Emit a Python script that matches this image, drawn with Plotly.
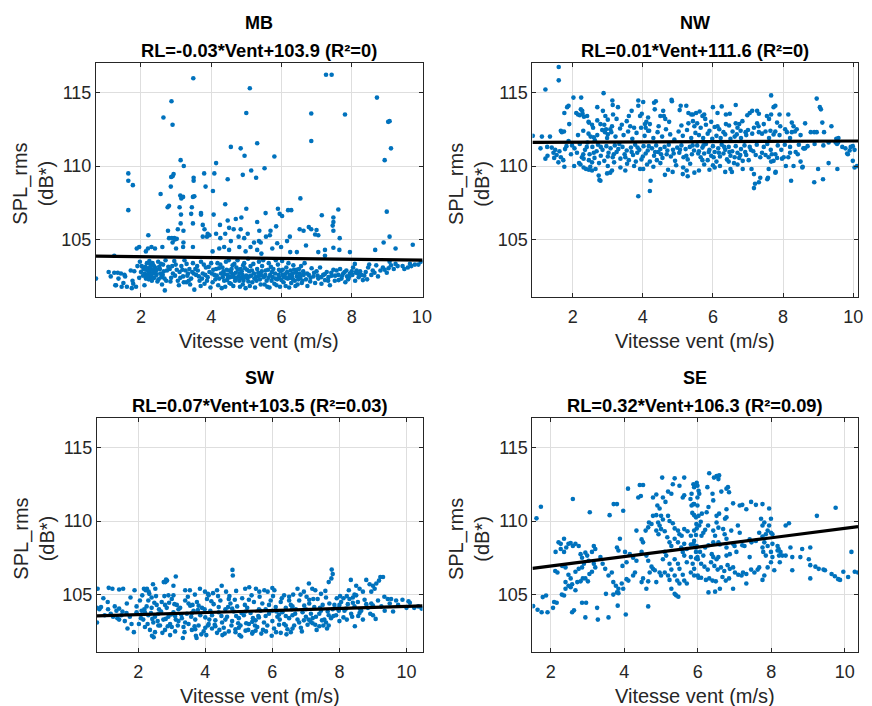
import plotly.graph_objects as go

# ---------------- data ----------------
panel_names = ["MB", "NW", "SW", "SE"]
slopes = [-0.03, 0.01, 0.07, 0.32]
intercepts = [103.9, 111.6, 103.5, 106.3]
r2_text = ["0", "0", "0.03", "0.09"]
x_ranges = [[0.72, 10.02], [0.85, 10.14], [0.77, 10.48], [1.5, 10.36]]
y_range = [101.1, 117.0]
x_ticks = [2, 4, 6, 8, 10]
y_ticks = [105, 110, 115]

MB_points = [
(3.49,115.96),(5.1,115.28),(7.27,116.2),(7.43,116.2),(2.87,114.4),(8.72,114.65),(2.64,113.3),(2.9,112.8),(5.0,113.6),(6.85,113.57),(7.81,113.5),(9.04,113.0),(9.08,113.05),(6.85,111.7),(5.31,111.55),(9.12,111.2),(4.56,111.3),(4.84,111.2),(4.95,110.7),(5.8,110.65),(8.94,110.4),(3.13,110.4),(3.22,110.0),(4.14,110.2),(5.52,109.85),(1.64,109.5),(1.64,109.0),(1.77,108.7),(1.64,107.0),
(2.9,109.3),(2.93,109.45),(2.86,109.25),(3.5,109.2),(3.5,109.0),(3.8,109.5),(4.09,109.5),(4.47,109.1),(4.9,109.4),(5.14,109.7),(5.28,109.2),(2.85,108.6),(3.84,108.6),(4.05,108.3),(2.56,108.1),(3.12,108.0),(3.2,107.9),(3.48,107.9),(3.52,107.95),(2.8,107.3),(2.76,107.2),(3.15,107.8),(3.45,107.2),(4.4,107.4),(5.0,107.1),(3.1,107.2),(3.71,106.8),(3.71,106.7),(4.07,106.7),(3.43,106.75),(3.14,106.7),
(6.54,107.8),(5.9,107.1),(5.95,106.75),(6.02,106.6),(6.19,107.0),(6.28,107.0),(7.62,107.05),(7.48,106.5),(7.48,106.2),(7.46,105.95),(7.15,106.65),(9.0,106.9),(5.55,106.8),
(3.48,106.1),(3.13,106.1),(3.76,106.0),(4.47,106.3),(4.7,106.4),(4.86,106.5),(4.25,106.0),(4.51,105.8),(2.77,105.6),(3.05,105.7),(3.21,105.6),(3.81,105.7),(3.9,105.4),(3.95,105.3),(4.14,105.4),(4.4,105.4),(4.64,105.7),(4.84,105.7),(5.04,105.4),(5.31,106.2),
(6.52,105.7),(6.63,105.6),(6.78,105.85),(6.85,105.7),(7.0,105.65),(7.48,105.6),(5.85,105.9),(5.37,105.6),(5.69,105.6),(5.56,105.2),(5.67,105.3),(6.24,105.2),(6.96,105.35),(7.05,105.3),(7.66,105.1),(9.08,105.2),(8.91,104.8),(9.74,104.65),(8.67,104.3),(9.25,104.4),
(2.8,105.1),(2.88,105.1),(2.95,105.1),(3.02,105.05),(2.21,105.3),(2.9,104.8),(2.96,105.0),(3.21,104.8),(3.48,104.5),(3.76,105.2),(3.88,105.2),(4.26,105.1),(4.56,104.9),(4.78,105.2),(4.94,105.1),(5.22,104.8),(5.36,104.9),(5.41,104.8),(5.88,104.75),(6.16,104.9),(6.7,104.6),
(1.88,104.4),(1.95,104.5),(2.14,104.2),(2.4,104.4),(2.61,104.5),(3.0,104.4),(3.2,104.5),(4.04,104.2),(4.23,104.4),(4.37,104.5),(4.51,104.3),(4.8,104.5),(4.98,104.2),(5.12,104.5),(5.31,104.3),(7.24,103.9),(7.24,104.3),(7.95,104.15),(6.44,104.15),(5.74,104.4),(5.99,104.5),(7.48,104.45),(7.65,104.3),(5.43,104.05),(6.25,104.15),(7.05,104.15),(1.24,103.9),(2.3,104.5),(2.2,104.4),
(0.72,102.35),(1.08,102.8),(1.14,102.5),(1.29,101.9),(1.36,102.35),(1.43,102.7),(1.5,102.05),(1.55,102.5),(1.6,101.8),(1.71,102.9),(1.76,102.2),(1.81,102.85),(1.86,101.8),(1.74,101.7),(1.24,102.75),(1.34,102.75),(1.53,102.6),(1.27,101.9),(1.45,101.8),(1.78,102.0),(1.9,103.2),(1.95,102.4),
(1.97,103.5),(2.02,103.2),(2.07,103.0),(2.11,102.7),(2.16,102.6),(2.21,102.9),(2.24,102.45),(2.27,103.3),(2.31,102.2),(2.35,102.7),(2.4,103.1),(2.44,102.6),(2.49,103.5),(2.54,103.0),(2.58,102.45),(2.63,103.3),(2.68,101.55),(2.72,102.2),(2.2,102.6),(2.25,102.75),(2.28,102.55),(2.18,103.05),(2.14,102.35),(2.3,102.95),(2.06,102.55),(2.12,103.15),(2.33,103.4),(2.38,102.4),(2.22,102.3),(2.26,103.1),(2.36,102.9),(2.45,102.95),(2.5,102.3),(2.65,102.85),(2.7,103.6),(2.0,102.8),(2.1,101.9),(2.55,102.7),(2.6,101.95),
(2.82,103.0),(2.91,102.7),(2.99,103.3),(3.05,102.2),(3.1,102.8),(3.15,103.2),(3.2,102.5),(3.24,103.6),(3.29,102.1),(3.34,102.7),(3.38,103.0),(3.43,102.35),(3.48,103.4),(3.52,101.6),(3.57,102.6),(3.62,102.9),(3.67,102.2),(3.71,103.5),(3.76,102.7),(3.81,102.0),(3.85,103.1),(3.9,102.45),(3.95,102.8),(4.0,103.4),(4.04,102.1),(4.09,102.6),(4.14,103.0),(4.18,103.4),(4.23,102.35),(4.28,102.7),(4.3,101.7),(4.32,103.1),(4.37,102.2),(4.42,103.5),(4.47,102.6),(4.51,102.9),(4.56,102.0),(4.61,103.25),(4.65,102.45),(4.7,102.75),(4.75,103.6),(4.8,102.2),(4.84,103.0),(4.89,102.6),(4.94,103.4),(4.98,101.7),(5.03,102.35),(5.08,102.85),(5.12,103.2),(5.17,102.1),(5.22,102.7),(5.27,102.45),(5.31,103.0),(5.36,103.5),(5.41,101.95),
(2.86,102.4),(2.95,103.55),(3.08,101.9),(3.18,102.95),(3.3,103.35),(3.4,101.95),(3.46,102.8),(3.6,103.2),(3.7,101.85),(3.79,103.3),(3.88,102.2),(3.98,101.75),(4.06,102.95),(4.12,102.3),(4.2,101.9),(4.26,103.3),(4.35,102.85),(4.4,101.8),(4.45,102.25),(4.5,103.6),(4.54,102.45),(4.58,103.0),(4.63,101.85),(4.68,102.2),(4.72,103.1),(4.78,102.5),(4.82,101.8),(4.87,102.85),(4.92,102.2),(4.96,103.05),(5.0,102.55),(5.05,103.7),(5.1,101.85),(5.14,102.55),(5.2,103.35),(5.25,101.75),(5.29,102.2),(5.34,102.75),(5.39,102.3),(4.62,102.65),(4.73,102.4),(4.44,102.95),(4.52,102.05),(4.85,102.4),(4.9,101.95),(5.06,102.15),
(5.45,103.2),(5.5,102.45),(5.55,102.9),(5.6,101.8),(5.64,103.4),(5.68,102.6),(5.72,102.2),(5.77,103.0),(5.82,102.7),(5.86,101.9),(5.9,103.3),(5.94,102.4),(5.98,102.85),(6.02,103.55),(6.06,102.1),(6.1,102.65),(6.14,103.1),(6.18,102.35),(6.22,101.75),(6.26,102.9),(6.3,102.5),(6.34,103.25),(6.38,102.2),(6.42,102.75),(6.46,101.95),(6.5,103.0),(6.54,102.4),(6.58,102.05),(6.62,102.85),(6.66,103.4),(6.7,102.3),(6.74,101.85),(6.78,102.6),(6.82,102.15),(6.86,103.05),(6.91,102.5),(6.96,102.05),(7.0,102.85),(7.05,102.35),(7.1,103.1),(7.14,102.0),(7.19,102.6),(7.24,102.25),(7.29,102.8),(7.34,102.45),(7.38,101.9),(7.43,102.55),(7.48,102.95),(7.52,102.2),(7.57,102.9),(7.62,102.6),(7.67,103.0),(7.71,102.35),(7.76,102.7),
(5.42,102.6),(5.48,103.6),(5.52,101.95),(5.58,102.2),(5.62,102.95),(5.66,101.75),(5.7,103.15),(5.75,102.45),(5.8,102.0),(5.84,103.6),(5.88,102.3),(5.92,102.6),(5.96,101.8),(6.0,102.25),(6.04,102.95),(6.08,102.45),(6.12,101.85),(6.16,102.8),(6.2,103.4),(6.24,102.4),(6.28,102.05),(6.32,102.7),(6.36,102.95),(6.4,101.85),(6.44,102.5),(6.48,102.3),(6.52,102.7),(6.56,103.2),(6.6,102.2),
(7.85,102.9),(7.87,102.5),(7.95,102.7),(8.0,102.85),(8.04,103.1),(8.09,103.35),(8.14,102.9),(8.18,102.7),(8.28,102.6),(8.32,102.25),(8.47,103.1),(8.56,102.6),(8.6,102.9),(8.7,103.25),(8.89,103.1),(8.94,102.95),(9.08,103.5),(9.12,103.25),(9.31,103.2),(9.45,103.2),(9.6,103.1),(9.66,103.35),(9.9,103.3),(9.97,103.5),(7.9,102.3),(8.2,102.45),(8.4,102.8),(8.75,102.5),(9.0,102.75),(9.2,103.0),(8.1,102.2),(7.82,102.1),(8.5,103.3),(9.8,103.3),
(2.15,102.95),(2.19,102.5),(2.23,102.8),(2.29,102.65),(2.32,102.4),(2.17,103.4),(2.24,103.55),(2.37,103.2),(2.42,102.8),(2.47,102.15),(2.52,103.15),(2.57,103.35),(2.62,102.6),(2.67,102.35),(2.74,102.9),(2.78,103.15),(2.84,102.15),(2.89,103.2),(2.97,102.55),(3.02,102.95),(3.12,102.4),(3.22,102.1),(3.27,102.9),(3.32,102.55),(3.36,102.2),(3.5,102.7),(3.55,103.0),(3.65,102.5),(3.74,102.35),(3.83,102.6),(3.93,103.15),(4.02,102.7),(4.16,102.55),(4.22,103.05),(4.33,102.45),(4.39,102.65),(4.48,102.4),(4.57,102.75),(4.66,103.35),(4.76,102.95),(4.81,102.7),(4.91,103.25),(4.95,102.45),(5.02,102.95),(5.09,102.5),(5.16,102.9),(5.23,102.35),(5.33,102.5),(5.44,102.85),(5.54,102.6),(5.63,102.4),(5.73,102.8),(5.83,102.35),(5.93,102.95),(6.03,102.6),(6.13,102.4),(6.23,102.6),(6.33,102.3),(6.43,102.95),(6.53,102.55),(6.63,102.6),(6.73,102.7),(6.83,102.4),(6.93,102.75),(7.03,102.55),(7.13,102.45),(7.23,102.65),(7.33,102.2),(7.42,102.75),(7.53,102.55),(7.63,102.25),(7.73,102.55),(7.8,102.8),(7.92,102.45),(8.02,102.6),(8.12,102.75),(8.24,102.85),(8.36,102.55),(8.44,102.3),(8.65,102.75),(8.82,102.9),(9.05,103.05),(9.25,103.35),(9.5,103.0),(9.7,103.2),
]

NW_points = [
(1.6,116.73),(1.6,115.82),(1.22,115.2),(2.02,114.65),(2.24,114.65),(2.88,114.95),(7.66,114.8),(8.96,114.58),(9.05,114.0),(9.08,113.85),(1.84,114.0),(1.88,114.1),(1.76,113.6),
(0.86,112.05),(1.12,112.0),(1.35,112.0),(1.4,111.25),(1.45,110.9),(1.5,111.1),(1.22,110.5),(1.28,110.7),(1.47,110.55),(1.54,110.75),(1.59,110.25),(1.73,110.4),(1.76,109.95),(1.66,110.6),(1.78,111.15),(1.82,111.35),(1.9,112.85),(1.66,112.4),(1.69,112.3),(1.75,112.35),(1.88,111.7),(1.08,111.2),(1.27,111.3),(1.95,110.8),(1.62,111.0),(1.98,111.4),
(2.1,113.6),(2.15,113.5),(2.2,113.45),(2.28,113.55),(2.32,113.35),(2.23,113.85),(2.27,113.75),(2.41,113.4),(2.46,112.95),(2.7,114.0),(2.04,110.0),(2.18,110.2),(2.22,110.1),(2.31,109.9),(2.38,109.8),(2.46,109.75),(2.55,109.7),(2.65,109.8),(2.74,109.35),(2.76,109.05),(2.79,109.0),(2.98,109.5),(3.07,109.55),(3.12,109.7),(2.31,110.5),(2.46,110.4),(2.55,110.25),(2.86,113.75),(2.93,113.4),(3.0,113.15),(3.0,112.15),(3.07,112.5),(3.12,112.7),(3.14,114.15),(3.29,114.0),(2.9,112.8),(2.95,112.5),(2.92,112.3),(2.7,113.1),(2.79,112.85),(2.6,111.95),(2.63,111.75),(2.51,112.0),
(2.05,111.2),(2.12,110.9),(2.2,111.5),(2.26,110.6),(2.35,111.1),(2.42,111.6),(2.48,110.8),(2.56,111.3),(2.62,110.55),(2.68,111.0),(2.72,111.45),(2.8,110.7),(2.85,111.1),(2.9,110.35),(2.96,111.35),(3.02,110.9),(3.08,111.2),(3.14,110.6),(3.2,111.4),(3.25,110.95),(3.3,111.15),(3.36,110.5),(3.42,111.3),(3.48,110.8),(3.54,111.05),(3.6,110.4),(3.66,111.25),(3.72,110.75),(3.78,111.45),(3.84,110.9),(3.9,111.1),(3.96,110.45),(4.02,111.35),(4.08,110.85),(4.14,111.05),(4.2,110.3),(4.26,111.2),(4.32,110.7),(4.38,111.4),(4.44,110.95),(4.5,111.15),(4.56,110.55),(4.62,111.3),(4.68,110.8),(4.74,111.45),(4.8,110.65),(4.86,111.1),(4.92,110.35),(4.98,111.25),(5.04,110.9),(5.1,111.4),(5.16,110.6),(5.22,111.15),(5.28,110.45),(5.34,111.3),(5.4,110.8),(5.46,111.05),
(2.15,112.1),(2.3,112.4),(2.45,112.2),(2.58,112.6),(2.7,112.1),(2.84,112.45),(2.98,111.9),(3.1,112.3),(3.22,112.0),(3.35,112.55),(3.45,112.1),(3.58,112.35),(3.7,111.85),(3.82,112.25),(3.95,112.6),(4.05,112.05),(4.18,112.4),(4.3,111.9),(4.42,112.3),(4.55,112.0),(4.66,112.5),(4.78,112.15),(4.9,111.8),(5.02,112.35),(5.14,112.05),(5.26,112.45),(5.38,111.9),(5.5,112.25),
(2.3,110.8),(2.5,109.95),(2.75,110.2),(3.0,110.0),(3.18,110.25),(3.36,109.9),(3.55,110.15),(3.75,110.0),(3.92,109.8),(4.12,110.1),(4.3,109.95),(4.5,110.2),(4.72,109.75),(4.95,110.05),(5.15,109.9),(5.35,110.15),(3.87,107.95),(4.2,108.3),(4.22,109.0),(4.01,109.8),(4.63,109.4),(5.14,109.45),(5.28,109.3),(5.47,109.55),
(3.6,113.4),(3.68,113.75),(3.64,112.7),(3.54,113.05),(3.87,114.1),(4.01,114.35),(3.92,113.4),(3.97,113.55),(4.06,112.85),(4.08,112.6),(4.15,113.3),(4.2,112.85),(4.32,114.3),(4.34,113.85),(4.15,112.4),(4.58,113.75),(4.6,113.4),(4.64,113.2),(4.83,114.4),(5.08,114.1),(5.05,113.8),(5.24,114.1),(5.3,113.6),(5.38,113.5),(5.43,113.05),(5.47,112.7),(4.37,114.4),(4.82,114.5),(3.13,114.45),(3.87,114.45),
(5.43,113.5),(5.52,113.6),(5.62,113.7),(5.7,113.4),(5.75,113.5),(5.78,113.2),(6.0,114.0),(6.25,114.05),(6.65,114.15),(6.13,113.6),(6.37,113.5),(6.48,113.55),(5.55,112.9),(5.65,112.6),(5.8,112.8),(5.9,112.4),(6.05,112.65),(6.18,112.5),(6.13,112.7),(6.37,112.85),(6.46,112.75),(6.65,112.9),(6.75,112.85),(6.84,113.05),(6.56,112.35),(6.68,112.15),(6.79,112.4),(6.93,112.3),(7.0,112.45),
(5.55,111.4),(5.6,111.0),(5.65,110.6),(5.7,111.25),(5.75,110.85),(5.8,111.5),(5.85,110.4),(5.9,111.1),(5.95,110.7),(6.0,111.35),(6.05,110.95),(6.1,110.3),(6.15,111.2),(6.2,110.65),(6.25,111.45),(6.3,110.85),(6.35,111.1),(6.4,110.45),(6.45,111.3),(6.5,110.7),(6.55,111.0),(6.6,110.2),(6.65,111.35),(6.7,110.9),(6.75,110.55),(6.8,111.15),(6.85,110.35),(6.9,111.4),(6.95,110.75),
(5.6,112.1),(5.72,111.9),(5.85,112.2),(5.98,111.85),(6.1,112.05),(6.22,111.9),(6.35,112.15),(6.5,111.85),(6.62,112.0),(6.8,111.9),(6.95,112.1),
(5.6,109.7),(5.75,110.1),(5.9,109.75),(6.05,109.9),(6.2,110.0),(6.35,109.6),(6.5,109.8),(6.7,110.1),(6.54,109.6),
(7.12,113.75),(7.26,113.75),(7.31,113.55),(6.98,113.45),(7.05,113.6),(7.54,113.4),(7.6,113.2),(7.66,113.5),(7.73,114.0),(7.78,114.1),(7.9,113.5),(8.15,113.5),(9.12,112.95),(9.38,112.7),(8.63,112.9),(8.25,112.95),(8.3,112.7),(7.83,112.95),(7.92,112.7),(7.45,112.85),(7.26,112.9),(7.17,112.6),(8.79,112.3),(8.96,112.3),(8.34,112.35),(8.39,112.5),(8.25,112.3),(8.06,112.5),(8.11,112.3),(7.64,112.4),(7.73,112.15),(7.78,112.35),(7.31,112.3),(7.4,112.2),(7.5,112.35),(7.12,112.2),
(9.52,111.85),(9.57,111.6),(9.54,111.5),(9.78,111.2),(9.83,110.85),(9.9,111.05),(9.99,111.35),(10.04,111.1),(9.99,110.35),(10.04,109.9),(10.11,110.0),(9.55,109.8),(9.14,109.1),(8.89,108.9),(9.0,109.8),(8.56,109.95),(8.3,110.0),(8.23,109.0),(8.58,111.2),(8.63,111.2),(8.36,110.95),(8.42,110.8),(8.15,110.6),(8.2,110.9),(7.97,110.5),(8.02,110.6),(7.78,110.8),(7.83,110.55),(7.73,110.35),(7.59,110.6),(7.68,110.8),(7.65,111.1),(7.4,110.9),(7.5,110.75),(7.78,109.55),(7.55,109.1),(7.35,109.2),(7.31,108.9),(7.17,109.45),(7.2,108.8),(7.17,108.5),(7.59,109.8),(7.66,110.3),(7.57,109.2),(7.79,109.6),
(7.05,111.3),(7.15,111.0),(7.25,111.45),(7.35,110.6),(7.45,111.3),(7.55,111.5),(7.85,111.4),(7.95,111.1),(8.05,111.45),(8.2,111.3),(8.45,111.45),(8.7,111.35),(8.9,111.5),(9.15,111.4),(9.3,111.6),(9.17,112.3),(8.89,112.3),(8.6,111.2),(8.55,109.9),(9.5,111.6),(9.58,111.9),(9.69,111.3),(9.85,110.8),(9.93,111.3),(7.02,110.4),(7.1,109.8),(8.08,110.0),(8.5,110.3),(9.3,110.2),
(2.4,111.3),(2.6,110.9),(2.8,111.3),(3.0,110.65),(3.17,110.8),(3.33,111.5),(3.5,110.6),(3.68,110.95),(3.85,111.25),(4.0,110.65),(4.17,111.35),(4.35,110.95),(4.52,110.8),(4.7,111.05),(4.88,110.85),(5.06,111.1),(5.24,110.7),(5.42,111.4),(5.58,110.85),(5.73,111.4),(5.88,110.95),(6.02,110.6),(6.17,110.9),(6.32,111.3),(6.47,110.95),(6.62,110.6),(6.78,110.75),(6.92,110.95),(7.08,111.1),(7.22,110.75),(3.4,112.8),(3.75,112.6),(4.1,113.0),(4.45,112.7),(4.75,113.0),(5.1,112.75),(5.3,112.9),(5.95,113.0),(6.3,112.3),(6.7,112.6),(7.3,112.7),(7.6,111.9),(7.9,112.1),(8.2,111.9),(8.5,112.1),(2.45,113.0),(2.55,112.8),(3.25,113.2),(3.15,113.5),(4.5,113.4),(3.5,109.7),(3.8,110.3),(4.4,110.4),(4.85,109.6),(5.25,109.7),(5.7,110.4),(6.0,110.05),(6.45,110.3),(6.85,109.8),
]

SW_points = [
(0.79,105.4),(0.77,104.1),(0.77,103.1),(1.12,105.46),(1.23,105.4),(1.43,105.35),(1.55,105.4),(0.96,104.75),(1.09,104.5),(1.3,104.2),(0.84,104.0),(0.89,104.15),(1.43,104.05),(1.53,103.85),(1.66,104.4),(1.77,104.8),(1.89,105.3),(1.38,103.4),(1.43,103.3),(1.18,103.7),(1.68,102.7),(1.87,102.45),(1.25,103.5),(1.5,103.6),(1.6,103.2),(1.75,103.5),(1.8,103.0),(1.95,103.8),(1.35,103.9),(1.65,103.75),(1.0,103.6),(1.1,104.0),(1.95,104.2),
(2.17,105.4),(2.22,105.3),(2.26,105.4),(2.31,105.2),(2.44,105.7),(2.51,105.4),(2.76,105.85),(2.86,105.95),(2.83,106.03),(2.81,105.85),(3.12,106.23),(3.05,105.6),(3.05,104.95),(2.41,102.2),(2.46,102.1),(2.95,102.25),
(2.05,104.6),(2.1,103.9),(2.15,103.3),(2.2,102.8),(2.25,104.2),(2.3,103.6),(2.35,102.6),(2.4,104.8),(2.45,103.1),(2.5,102.45),(2.55,104.3),(2.6,103.7),(2.65,102.9),(2.7,104.5),(2.75,103.3),(2.8,102.6),(2.85,104.1),(2.9,103.5),(2.95,103.0),(3.0,104.7),(3.05,103.8),(3.1,102.5),(3.15,104.3),(3.2,103.2),(2.08,103.4),(2.18,104.0),(2.28,103.0),(2.38,103.75),(2.48,104.45),(2.58,103.2),(2.68,103.85),(2.78,104.9),(2.88,102.85),(2.98,103.65),(3.08,104.35),(3.18,102.9),(2.12,104.95),(2.33,105.05),(2.53,104.9),(2.72,102.4),(2.92,104.45),(3.12,103.3),(2.02,103.0),(2.62,104.0),(2.42,103.35),(2.82,103.35),
(3.4,105.3),(3.54,105.3),(3.69,105.0),(3.84,105.4),(3.99,105.2),(4.08,105.05),(4.23,105.1),(4.35,105.3),(4.49,105.6),(4.62,105.2),(4.72,104.9),(4.92,105.25),(5.19,105.4),(5.31,105.5),(5.51,105.4),(5.61,105.2),(4.81,106.68),(4.82,106.3),(3.33,102.05),(3.72,102.2),(3.74,102.05),(4.03,102.25),(4.51,102.25),(5.02,102.25),(5.07,102.15),(5.41,102.45),
(3.25,104.1),(3.3,103.4),(3.35,102.8),(3.4,104.6),(3.45,103.7),(3.5,103.0),(3.55,104.25),(3.6,102.6),(3.65,103.9),(3.7,103.3),(3.75,104.5),(3.8,102.9),(3.85,103.6),(3.9,104.1),(3.95,102.5),(4.0,103.45),(4.05,104.7),(4.1,103.0),(4.15,103.9),(4.2,102.7),(4.25,104.35),(4.3,103.25),(4.35,102.4),(4.4,103.8),(4.45,104.6),(4.5,103.1),(4.55,102.75),(4.6,104.0),(4.65,103.5),(4.7,102.5),(4.75,104.4),(4.8,103.2),(4.85,103.85),(4.9,102.65),(4.95,104.2),(5.0,103.4),(5.05,102.9),(5.1,104.75),(5.15,103.6),(5.2,102.55),(5.25,104.1),(5.3,103.0),(5.35,103.75),(5.4,102.35),(5.45,104.5),(5.5,103.25),(5.55,102.8),(5.6,104.0),
(3.28,103.65),(3.38,102.45),(3.48,104.85),(3.58,103.5),(3.68,102.85),(3.78,103.95),(3.88,102.3),(3.98,104.0),(4.08,102.9),(4.18,104.55),(4.28,102.95),(4.38,104.9),(4.48,103.55),(4.58,102.35),(4.68,104.15),(4.78,102.9),(4.88,104.65),(4.98,103.05),(5.08,103.75),(5.18,104.3),(5.28,102.6),(5.38,104.95),(5.48,102.9),(5.58,103.55),(3.62,104.3),(4.12,103.3),(4.42,102.6),(4.92,103.55),(5.22,103.05),(5.42,103.4),
(7.77,106.7),(7.8,106.4),(7.76,106.1),(7.68,105.85),(9.22,106.2),(9.3,106.2),(9.18,105.95),(9.1,105.75),(8.8,106.0),(8.34,106.0),(7.09,105.75),(7.19,105.4),(7.28,105.3),(6.94,105.2),(6.75,105.4),(6.84,105.0),(6.35,104.95),(6.5,104.6),(6.0,105.45),(6.06,105.3),(5.76,105.3),(5.86,105.2),(5.62,104.85),(8.9,105.7),(9.0,105.6),(9.05,105.4),(8.95,105.2),(8.5,105.6),(8.6,105.4),(8.7,105.2),(8.22,104.9),(8.3,104.7),(8.4,104.8),(8.5,104.95),(7.92,104.75),(8.02,104.9),(8.12,104.75),(9.34,104.85),(9.44,104.7),(9.54,104.7),(9.69,104.6),(9.88,104.65),(10.06,104.55),(10.1,104.45),(10.23,104.1),(10.35,104.2),(9.6,103.85),(9.0,103.6),(9.08,103.35),(8.92,103.7),(8.46,102.85),(7.63,102.7),(7.68,102.9),(7.75,103.4),(7.68,103.6),(7.82,103.55),(7.48,103.25),(7.14,103.15),(7.28,102.95),(6.94,103.25),(6.6,102.7),(6.55,102.45),(6.11,102.45),(6.25,102.4),(5.81,102.5),(5.67,102.35),(6.4,103.55),(8.12,103.45),(8.22,103.3),(8.56,103.55),(8.7,103.3),
(5.65,103.9),(5.7,104.4),(5.75,103.1),(5.8,104.0),(5.85,102.9),(5.9,103.7),(5.95,104.6),(6.0,103.2),(6.05,102.7),(6.1,104.15),(6.15,103.5),(6.2,102.95),(6.25,104.5),(6.3,103.8),(6.35,103.0),(6.4,104.1),(6.45,102.65),(6.5,103.4),(6.55,104.3),(6.6,103.6),(6.65,102.9),(6.7,104.0),(6.75,103.3),(6.8,104.6),(6.85,102.75),(6.9,103.8),(6.95,104.25),(7.0,103.5),(7.05,102.95),(7.1,104.4),(7.15,103.7),(7.2,103.05),(7.25,104.15),(7.3,103.5),(7.35,104.7),(7.4,102.85),(7.45,103.9),(7.5,104.3),(7.55,103.3),(7.6,104.8),(7.65,103.85),(7.7,104.4),(7.85,104.3),(7.9,103.6),(7.95,104.05),(8.0,103.2),(8.05,104.5),(8.15,103.9),(8.25,104.35),(8.35,103.7),(8.45,104.2),(8.55,104.5),(8.65,103.9),(8.75,104.65),(8.85,104.1),(8.95,104.4),(9.15,104.6),(9.25,104.2),(9.35,103.9),(9.5,104.4),(9.75,104.3),(10.0,104.1),(10.45,104.05),
(5.72,102.6),(5.98,102.2),(6.22,103.3),(6.42,102.3),(6.68,103.7),(6.88,102.5),(7.08,103.3),(7.32,102.6),(7.52,102.9),(6.12,103.85),(6.58,104.0),(7.42,104.1),(6.02,104.9),(6.28,104.75),(6.62,105.0),(7.02,104.85),(7.22,104.7),(7.45,105.05),(7.58,105.25),(8.28,105.3),(8.45,105.0),(8.62,104.0),(7.98,103.9),(8.38,103.5),
(2.2,103.8),(2.4,104.1),(2.6,102.9),(2.8,104.3),(3.0,102.8),(3.2,104.0),(3.4,103.1),(3.6,103.75),(3.8,104.25),(4.0,102.75),(4.2,103.6),(4.4,104.15),(4.6,103.3),(4.8,104.05),(5.0,102.75),(5.2,103.85),(5.4,103.15),(5.6,103.45),(5.8,103.55),(6.0,103.9),(6.2,103.65),(6.4,102.9),(6.6,104.2),(6.8,103.1),(7.0,104.0),(7.2,103.4),(7.4,103.7),(7.6,103.1),(7.8,104.0),(8.0,104.3),(8.2,104.05),(8.4,104.45),(8.6,103.75),(8.8,104.35),(9.0,104.25),(2.3,104.6),(2.9,104.95),(3.5,104.4),(4.1,104.95),(4.7,104.7),(5.3,104.65),(5.9,104.3),(6.5,104.85),(7.1,104.65),(2.5,103.5),(3.1,103.55),(3.7,102.65),(4.3,102.85),(4.9,102.45),(5.5,102.55),
]

SE_points = [
(1.73,110.97),(1.61,110.18),(1.42,107.6),(1.52,104.22),(1.64,103.97),(1.75,103.8),(1.91,103.8),(1.78,104.83),(1.87,104.94),(2.09,104.5),(2.06,104.1),(2.16,104.45),(2.3,105.0),(2.36,104.94),(2.4,105.4),(2.48,105.6),(2.58,103.8),(2.63,103.93),(2.67,105.3),(2.72,105.85),(2.13,107.9),(2.21,108.55),(2.27,108.45),(2.36,108.8),(2.42,108.2),(2.48,108.45),(2.54,108.5),(2.6,108.3),(2.67,108.45),(2.76,108.3),(2.27,108.1),(2.36,107.9),(2.6,111.5),(3.06,110.6),(2.12,106.6),(2.18,106.5),(2.31,106.95),(2.4,106.85),(2.48,106.35),(2.54,106.1),(2.67,106.55),(2.76,106.75),(2.85,106.85),(2.9,107.1),(2.4,105.85),(2.54,105.5),(2.58,105.7),(2.81,105.9),(2.87,106.1),(2.94,106.1),(3.01,105.9),(3.05,106.4),(3.12,106.55),(3.17,107.1),(3.21,106.85),(2.81,107.75),(2.85,107.5),(2.94,107.85),(2.99,107.65),(3.03,107.3),(3.12,107.9),(3.17,108.3),(3.21,108.1),(3.35,107.55),(3.41,107.1),(3.48,106.75),(3.57,106.3),(3.66,106.5),(3.7,105.85),(3.77,105.6),(3.84,105.4),(3.95,106.95),(4.06,107.2),(4.02,107.9),(3.8,108.2),(3.84,108.0),(3.88,108.8),(3.97,110.7),(3.6,110.4),(3.71,111.15),(3.8,111.15),(4.1,112.2),(4.42,112.45),(4.51,112.45),(4.38,111.6),(4.45,111.7),(4.33,109.35),(4.15,107.75),(4.24,107.5),(4.33,107.3),(4.51,108.55),(4.47,107.9),(4.6,107.65),(4.65,107.3),(4.74,106.9),(4.78,106.75),(4.69,106.5),(4.83,106.65),(4.6,105.4),(4.65,105.9),(4.51,106.1),(4.47,105.85),(4.29,106.5),(4.24,106.3),(4.11,105.95),(4.06,106.05),(3.93,105.75),(3.97,105.4),(3.84,105.1),(3.8,105.15),(3.7,105.0),(3.5,105.05),(2.85,104.45),(2.96,104.45),(3.26,104.1),(3.82,104.25),(4.65,104.2),(2.94,103.45),(3.28,103.3),(3.57,103.45),(4.04,103.65),
(4.47,108.75),(4.58,109.35),(4.65,109.57),(4.67,109.9),(4.74,109.8),(4.78,110.35),(4.87,110.4),(4.9,111.05),(4.96,110.85),(5.0,110.35),(5.05,110.1),(4.92,109.9),(4.96,109.7),(4.87,109.35),(4.93,109.1),(5.0,109.45),(5.1,109.3),(5.03,112.95),(5.05,111.6),(5.12,111.3),(4.78,111.6),(4.87,111.8),(5.19,112.0),(5.28,111.85),(5.37,112.9),(5.63,112.95),(5.32,112.5),(5.5,112.4),(5.59,111.6),(5.63,111.75),(5.83,111.05),(5.9,111.15),(5.88,112.5),(5.9,112.3),(5.83,111.85),(5.8,111.5),(5.9,110.4),(5.85,110.55),(5.95,110.25),(5.19,110.35),(5.23,110.0),(5.32,109.85),(5.37,109.5),(5.46,109.35),(5.5,109.1),(5.56,109.0),(5.63,109.45),(5.72,109.3),(5.81,109.0),(5.9,109.35),(5.95,109.05),(5.17,108.9),(5.23,108.55),(5.28,108.3),(5.37,108.8),(5.46,108.55),(5.55,108.2),(5.63,108.45),(5.7,108.1),(5.81,108.4),(5.9,108.65),(5.95,108.2),(5.1,107.9),(5.14,107.65),(5.05,107.4),(5.23,107.1),(5.28,106.7),(5.37,107.4),(5.46,107.1),(5.5,106.75),(5.59,107.9),(5.63,107.65),(5.7,107.2),(5.81,107.55),(5.86,107.1),(5.9,106.75),(5.95,107.9),(5.95,107.45),(5.1,106.5),(5.19,106.3),(5.23,106.0),(5.37,106.3),(5.44,105.95),(5.5,105.75),(5.59,106.35),(5.63,105.95),(5.7,105.75),(5.28,105.4),(5.37,105.05),(5.41,104.95),(5.47,104.85),(5.81,106.5),(5.9,106.3),(4.96,106.5),(5.0,106.3),(4.87,105.85),
(6.31,113.25),(6.44,112.95),(6.51,113.05),(6.58,113.1),(6.56,112.85),(5.97,112.6),(5.99,112.4),(6.02,112.05),(6.04,111.85),(5.99,111.6),(6.26,112.3),(6.4,111.85),(6.64,112.0),(6.78,112.2),(6.82,112.3),(6.85,111.95),(6.42,111.4),(5.88,111.15),(5.99,111.05),(6.29,110.95),(6.24,110.6),(6.11,110.5),(6.02,110.35),(6.04,109.7),(5.96,109.8),(6.08,109.95),(6.51,110.35),(6.58,110.5),(6.78,110.8),(6.78,110.25),(6.74,110.15),(6.96,111.2),(7.14,111.05),(7.21,111.1),(7.32,110.8),(7.45,111.3),(7.58,111.1),(7.76,111.15),(7.94,110.85),(7.72,110.15),(7.81,109.9),(7.76,109.7),(7.99,110.15),(7.94,109.7),(8.39,109.7),(8.48,109.85),(9.24,110.35),(9.75,110.9),(10.18,107.9),
(6.1,109.0),(6.2,109.4),(6.28,109.7),(6.15,109.2),(5.97,109.5),(6.51,109.9),(6.56,109.55),(6.42,109.35),(6.47,109.0),(6.56,108.55),(6.69,109.45),(6.73,109.1),(6.78,108.8),(6.91,109.35),(7.09,109.7),(7.14,109.2),(7.67,109.2),(7.76,108.95),(7.85,109.1),(7.9,109.35),(7.99,109.2),(8.03,109.1),(7.81,108.55),(7.9,108.3),(8.03,108.45),(7.99,107.9),(8.17,108.3),(8.2,108.1),(8.17,108.0),(8.25,107.9),(8.3,107.65),(8.52,108.2),(8.84,108.1),(9.06,108.2),(7.41,108.75),(7.46,108.55),(7.58,108.65),(7.21,108.35),(7.27,108.3),(6.96,108.45),(7.0,108.3),(5.88,108.45),(5.97,108.3),(6.2,108.2),(6.29,108.35),(6.42,108.55),(6.6,108.4),(6.78,108.2),(6.06,107.9),(6.15,107.65),(5.99,107.55),(6.38,107.75),(6.42,107.55),(6.51,107.4),(6.56,107.55),(6.78,107.65),(6.87,107.75),(7.05,107.9),(7.41,107.55),(7.76,108.2),(7.78,107.9),(7.85,107.65),(8.03,107.55),(8.21,107.65),(8.39,107.65),(8.57,107.55),(8.79,107.55),(9.02,107.4),(9.06,107.0),(9.2,106.9),(9.29,106.75),(9.42,106.7),(9.46,106.65),(9.64,106.4),(9.73,106.25),(9.82,106.05),(9.87,106.0),(9.96,106.55),(10.09,106.2),(10.27,106.55),(10.36,106.5),(8.57,106.65),(9.06,106.1),
(6.0,107.4),(6.09,107.1),(6.18,106.9),(6.27,106.7),(6.36,107.2),(6.45,106.95),(6.54,106.7),(6.63,106.85),(6.72,106.6),(6.81,107.0),(6.87,106.75),(6.0,106.3),(6.09,106.15),(6.22,106.0),(6.31,106.1),(6.4,105.95),(6.49,105.9),(6.67,106.2),(6.76,105.95),(6.85,106.1),(6.96,106.85),(7.01,106.5),(7.1,106.35),(7.19,106.3),(7.23,106.5),(7.32,106.4),(7.45,106.7),(7.54,106.5),(7.63,106.7),(7.67,106.85),(7.9,106.85),(7.99,107.2),(8.08,106.65),(8.23,107.2),(7.81,106.3),(7.76,106.0),(7.32,105.75),(6.96,105.4),(6.6,105.4),(6.47,105.2),(6.29,105.15),(6.02,106.15),
]

all_points = [MB_points, NW_points, SW_points, SE_points]

# ---------------- layout ----------------
W, H = 872, 706
FONT = "Liberation Sans, Arial, Helvetica, sans-serif"
BLUE = "#0072BD"
AX = "#262626"
GRID = "#dedede"

# plot boxes in pixels: (left, right, top, bottom)
boxes = [(97, 427, 63, 297), (538, 867, 63, 297), (98, 427, 418, 652), (538, 867, 418, 652)]

def px(xp):
    return xp / W

def py(yp):
    return 1 - yp / H

fig = go.Figure()
annotations = []
for i, (name, pts, box) in enumerate(zip(panel_names, all_points, boxes)):
    xs = [p[0] for p in pts]
    ys = [p[1] for p in pts]
    sfx = "" if i == 0 else str(i + 1)
    fig.add_trace(go.Scatter(x=xs, y=ys, mode="markers", xaxis="x" + sfx, yaxis="y" + sfx,
                             marker=dict(color=BLUE, size=4.6, line=dict(width=0)),
                             showlegend=False, hoverinfo="x+y"))
    x0, x1 = x_ranges[i]
    fig.add_trace(go.Scatter(x=[x0, x1], y=[slopes[i] * x0 + intercepts[i], slopes[i] * x1 + intercepts[i]],
                             mode="lines", xaxis="x" + sfx, yaxis="y" + sfx,
                             line=dict(color="black", width=3.2), showlegend=False, hoverinfo="skip"))
    l, r, t, b = box
    common = dict(showline=True, linecolor=AX, linewidth=1, mirror="ticks", ticks="inside",
                  ticklen=4, tickcolor=AX, showgrid=True, gridcolor=GRID, gridwidth=1,
                  zeroline=False, tickfont=dict(family=FONT, size=18, color=AX), fixedrange=True)
    fig.update_layout(**{
        "xaxis" + sfx: dict(domain=[px(l), px(r)], anchor="y" + sfx, range=[x0, x1],
                            tickvals=x_ticks, ticklabelstandoff=3, **common),
        "yaxis" + sfx: dict(domain=[py(b), py(t)], anchor="x" + sfx, range=y_range,
                            tickvals=y_ticks, **common),
    })
    cx = (l + r) / 2
    sub = "RL=%.2f*Vent+%.1f (R²=%s)" % (slopes[i], intercepts[i], r2_text[i])
    annotations += [
        dict(text="<b>%s</b>" % name, x=px(cx), y=py(t - 40), xref="paper", yref="paper",
             showarrow=False, xanchor="center", yanchor="middle",
             font=dict(family=FONT, size=18, color="black")),
        dict(text="<b>%s</b>" % sub, x=px(cx), y=py(t - 13), xref="paper", yref="paper",
             showarrow=False, xanchor="center", yanchor="middle",
             font=dict(family=FONT, size=18.3, color="black")),
        dict(text="Vitesse vent (m/s)", x=px(cx), y=py(b + 44), xref="paper", yref="paper",
             showarrow=False, xanchor="center", yanchor="middle",
             font=dict(family=FONT, size=20, color=AX)),
        dict(text="SPL_rms<br>(dB*)", x=px(l - 64), y=py((t + b) / 2 + 4), xref="paper", yref="paper",
             showarrow=False, xanchor="center", yanchor="middle", textangle=-90,
             font=dict(family=FONT, size=20, color=AX)),
    ]

fig.update_layout(width=W, height=H, margin=dict(l=0, r=0, t=0, b=0),
                  paper_bgcolor="white", plot_bgcolor="white",
                  annotations=annotations, font=dict(family=FONT))
fig.write_html("out.html", config={"displayModeBar": False},
               post_script="document.body.style.margin='0';document.body.style.overflow='hidden';")
